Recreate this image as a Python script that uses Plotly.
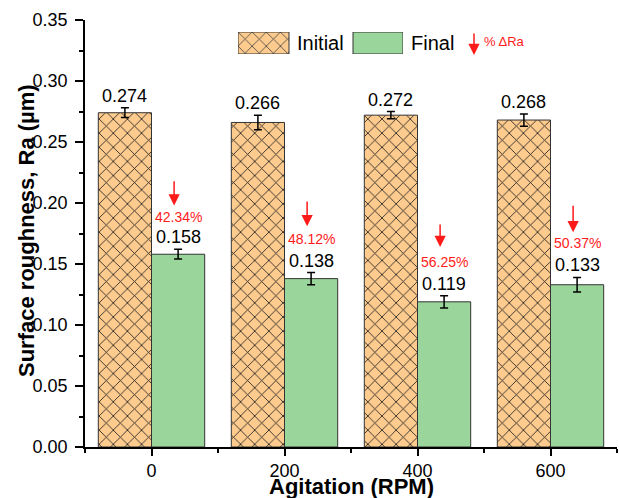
import plotly.graph_objects as go

# ---- data ----
agitation = ["0", "200", "400", "600"]
initial_ra = [0.274, 0.266, 0.272, 0.268]
initial_err = [0.004, 0.006, 0.003, 0.005]
final_ra = [0.158, 0.138, 0.119, 0.133]
final_err = [0.004, 0.005, 0.005, 0.006]
delta_pct = ["42.34%", "48.12%", "56.25%", "50.37%"]

# positions of % labels / arrows (data units)
pct_text_y = [0.1885, 0.1705, 0.1516, 0.167]
arrow_top_y = [0.219, 0.2025, 0.1836, 0.199]
arrow_tip_y = [0.198, 0.181, 0.164, 0.176]

FONT = "Arial, Liberation Sans, sans-serif"
ORANGE = "#FDCB8E"
GREEN = "#9AD59B"
EDGE = "#333333"
RED = "#FF1A1A"
HATCH = dict(shape="x", size=10, solidity=0.16, fgcolor="#1e1e1e", fgopacity=1)

xpos = list(range(len(agitation)))

fig = go.Figure()
fig.add_trace(go.Bar(
    x=xpos, y=initial_ra, name="Initial",
    marker=dict(color=ORANGE, line=dict(color=EDGE, width=1), pattern=HATCH),
    error_y=dict(type="data", array=initial_err, color="black", thickness=1.5, width=4),
    showlegend=False,
))
fig.add_trace(go.Bar(
    x=xpos, y=final_ra, name="Final",
    marker=dict(color=GREEN, line=dict(color=EDGE, width=1)),
    error_y=dict(type="data", array=final_err, color="black", thickness=1.5, width=4),
    showlegend=False,
))

ann = []
for i in xpos:
    ann.append(dict(x=i - 0.2, y=initial_ra[i] + initial_err[i], xref="x", yref="y",
                    text=f"{initial_ra[i]:.3f}", showarrow=False, yanchor="bottom",
                    yshift=0, font=dict(size=18, color="black", family=FONT)))
    ann.append(dict(x=i + 0.2, y=final_ra[i] + final_err[i], xref="x", yref="y",
                    text=f"{final_ra[i]:.3f}", showarrow=False, yanchor="bottom",
                    yshift=0, font=dict(size=18, color="black", family=FONT)))
    ann.append(dict(x=i + 0.2, y=pct_text_y[i], xref="x", yref="y",
                    text=delta_pct[i], showarrow=False, yanchor="middle",
                    font=dict(size=14, color=RED, family=FONT)))
    ann.append(dict(x=i + 0.17, y=arrow_tip_y[i], ax=i + 0.17, ay=arrow_top_y[i],
                    xref="x", yref="y", axref="x", ayref="y", text="",
                    showarrow=True, arrowhead=2, arrowsize=1.5, arrowwidth=1.5,
                    arrowcolor=RED))

# ---- custom legend (swatches drawn on a small auxiliary axis) ----
W, H = 619, 498
L, R, T, B = 85, 2, 20, 51
pw, ph = W - L - R, H - T - B
def px2paper_x(px):
    return (px - L) / pw
def px2paper_y(py):
    return (H - B - py) / ph

legend_labels = ["Initial", "Final"]
sw_x0, sw_x1 = 238, 403
fig.add_trace(go.Bar(
    x=[25.5, 140], y=[1, 1], width=[51, 50], xaxis="x2", yaxis="y2",
    marker=dict(color=[ORANGE, GREEN], line=dict(color=EDGE, width=1),
                pattern=dict(shape=["x", ""], size=10, solidity=0.16, fgcolor="#1e1e1e", fgopacity=1)),
    showlegend=False, hoverinfo="skip",
))
ann.append(dict(x=px2paper_x(295), y=px2paper_y(43), xref="paper", yref="paper",
                text=legend_labels[0], showarrow=False, xanchor="left", yanchor="middle",
                font=dict(size=20, color="black", family=FONT)))
ann.append(dict(x=px2paper_x(409), y=px2paper_y(43), xref="paper", yref="paper",
                text=legend_labels[1], showarrow=False, xanchor="left", yanchor="middle",
                font=dict(size=20, color="black", family=FONT)))
ann.append(dict(x=px2paper_x(474), y=px2paper_y(55), ax=0, ay=-23,
                xref="paper", yref="paper", axref="pixel", ayref="pixel", text="",
                showarrow=True, arrowhead=2, arrowsize=1.5, arrowwidth=1.5, arrowcolor=RED))
ann.append(dict(x=px2paper_x(482), y=px2paper_y(42), xref="paper", yref="paper",
                text="% ΔRa", showarrow=False, xanchor="left", yanchor="middle",
                font=dict(size=13, color=RED, family=FONT)))
# axis titles
ann.append(dict(x=px2paper_x(26), y=px2paper_y(231), xref="paper", yref="paper",
                text="<b>Surface roughness, Ra (µm)</b>", textangle=-90, showarrow=False,
                xanchor="center", yanchor="middle",
                font=dict(size=22, color="black", family=FONT)))
ann.append(dict(x=px2paper_x(351), y=px2paper_y(500), xref="paper", yref="paper",
                text="<b>Agitation (RPM)</b>", showarrow=False,
                xanchor="center", yanchor="bottom", borderpad=0,
                font=dict(size=22, color="black", family=FONT)))

fig.update_layout(
    width=W, height=H,
    margin=dict(l=L, r=R, t=T, b=B, autoexpand=False),
    paper_bgcolor="white", plot_bgcolor="white",
    barmode="group", bargap=0.2, bargroupgap=0,
    font=dict(family=FONT, size=18, color="black"),
    annotations=ann,
    xaxis=dict(
        range=[-0.5, 3.5], tickmode="array", tickvals=xpos, ticktext=agitation,
        showline=True, linecolor="black", linewidth=1.5, showgrid=False, zeroline=False,
        ticks="outside", ticklen=7, tickwidth=1.5, tickcolor="black",
        tickfont=dict(size=18, family=FONT, color="black"), ticklabelstandoff=0,
        minor=dict(tick0=0.5, dtick=1, ticks="outside", ticklen=4, tickwidth=1.5, tickcolor="black"),
        automargin=False,
    ),
    yaxis=dict(
        range=[0, 0.35], tickmode="linear", tick0=0, dtick=0.05, tickformat=".2f",
        showline=True, linecolor="black", linewidth=1.5, showgrid=False, zeroline=False,
        ticks="outside", ticklen=8, tickwidth=1.5, tickcolor="black",
        tickfont=dict(size=18, family=FONT, color="black"), ticklabelstandoff=4,
        minor=dict(dtick=0.025, ticks="outside", ticklen=4, tickwidth=1.5, tickcolor="black"),
        automargin=False,
    ),
    xaxis2=dict(domain=[px2paper_x(sw_x0), px2paper_x(sw_x1)], range=[0, sw_x1 - sw_x0],
                anchor="y2", visible=False, fixedrange=True),
    yaxis2=dict(domain=[px2paper_y(54), px2paper_y(32)], range=[0, 1],
                anchor="x2", visible=False, fixedrange=True),
)

fig.write_html("out.html")
